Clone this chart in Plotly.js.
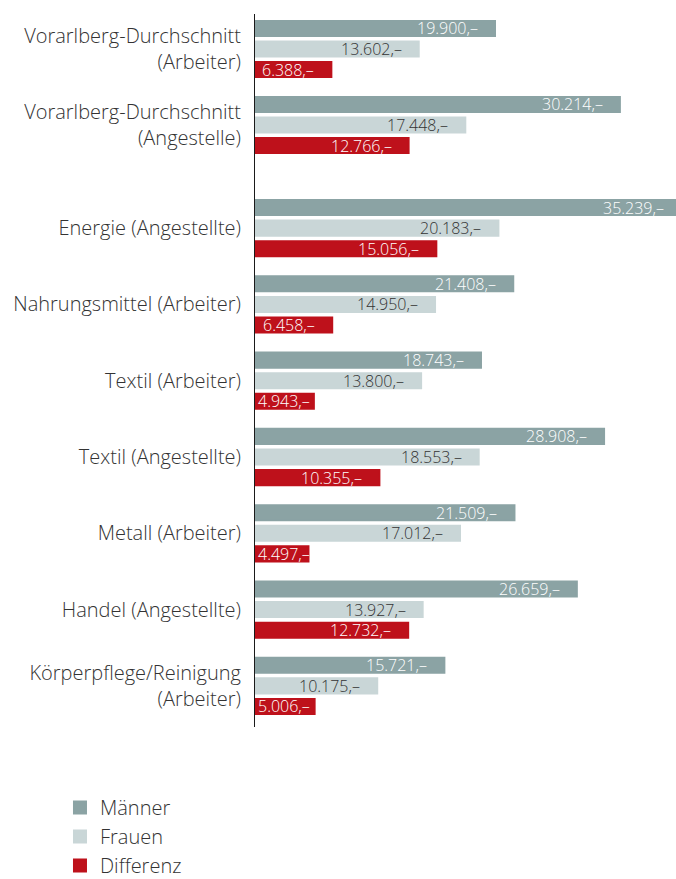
<!DOCTYPE html>
<html><head><meta charset="utf-8">
<script src="https://cdn.plot.ly/plotly-3.0.1.min.js"></script>
<style>html,body{margin:0;padding:0;overflow:hidden;background:#fff;width:676px;height:879px}</style>
</head><body><div id="chart" style="width:684px;height:879px"></div>
<script>
// ---- data ----
const categories = [
  'Vorarlberg-Durchschnitt<br>(Arbeiter)',
  'Vorarlberg-Durchschnitt<br>(Angestelle)',
  'Energie (Angestellte)',
  'Nahrungsmittel (Arbeiter)',
  'Textil (Arbeiter)',
  'Textil (Angestellte)',
  'Metall (Arbeiter)',
  'Handel (Angestellte)',
  'Körperpflege/Reinigung<br>(Arbeiter)'
];
const section = ['avg','avg','branch','branch','branch','branch','branch','branch','branch'];
const maenner   = [19900, 30214, 35239, 21408, 18743, 28908, 21509, 26659, 15721];
const frauen    = [13602, 17448, 20183, 14950, 13800, 18553, 17012, 13927, 10175];
const differenz = [ 6388, 12766, 15056,  6458,  4943, 10355,  4497, 12732,  5006];
const seriesNames = ['Männer', 'Frauen', 'Differenz'];

// ---- style ----
const W = 684, H = 879, ML = 254;
const colors = ['#8ba3a4', '#c9d6d7', '#be111b'];
const labelColors = ['#ffffff', '#333333', '#ffffff'];
const font = '"Open Sans", Roboto, sans-serif';
const xMax = 35508;
const domTop = [1 - 163/879, 1 - 11/879];
const domBot = [1 - 724/879, 1 - 190/879];
const bargap = 0.19, bargroupgap = 0.268;

function fmt(v) {
  const t = Math.floor(v / 1000), r = v % 1000;
  return t + '.' + String(r).padStart(3, '0') + ',\u2013';
}

const series = [maenner, frauen, differenz];
const sections = [['avg', 'y', domTop], ['branch', 'y2', domBot]];
const traces = [];
const annotations = [];
const pxPerUnit = (W - ML) / xMax;

sections.forEach(([sec, yax, dom], si) => {
  const idx = section.map((s, i) => s === sec ? i : -1).filter(i => i >= 0);
  const cats = idx.map(i => categories[i]);
  const pitch = (dom[1] - dom[0]) * H / idx.length;
  const slot = pitch * (1 - bargap) / 3;
  series.forEach((vals, k) => {
    const xs = idx.map(i => vals[i]);
    traces.push({
      type: 'bar', orientation: 'h',
      x: xs, y: cats, yaxis: yax, xaxis: 'x',
      name: seriesNames[k], legendgroup: seriesNames[k], showlegend: si === 0,
      marker: {color: colors[k], line: {color: colors[k], width: 2}},
      hoverinfo: 'skip'
    });
    xs.forEach((v, j) => {
      const txt = fmt(v);
      const barPx = v * pxPerUnit;
      const estW = txt.length * 7.6;
      const fits = barPx - 16 - estW >= 3;
      annotations.push({
        xref: 'x', yref: yax,
        x: fits ? v : 0, y: cats[j],
        xanchor: fits ? 'right' : 'left', yanchor: 'middle',
        xshift: fits ? -15 : 2, yshift: (1 - k) * slot,
        text: txt, showarrow: false,
        font: {family: font, size: 16, weight: 300, color: labelColors[k]}
      });
    });
  });
});

const tickfont = {family: font, size: 20, weight: 300, color: '#333333'};
const yBase = {
  type: 'category', autorange: 'reversed', showline: false, showgrid: false,
  zeroline: false, ticks: '', tickfont: tickfont, ticklabelstandoff: 12,
  anchor: 'x', fixedrange: true, automargin: false
};

const layout = {
  width: W, height: H,
  margin: {l: ML, r: 0, t: 0, b: 0, pad: 0, autoexpand: false},
  paper_bgcolor: '#ffffff', plot_bgcolor: '#ffffff',
  barmode: 'group', bargap: bargap, bargroupgap: bargroupgap,
  hovermode: false,
  xaxis: {range: [0, xMax], visible: false, fixedrange: true},
  yaxis: Object.assign({}, yBase, {domain: domTop}),
  yaxis2: Object.assign({}, yBase, {domain: domBot}),
  showlegend: true,
  legend: {
    orientation: 'v', x: -0.4512, xanchor: 'left', y: 1 - 788/879, yanchor: 'top',
    font: {family: font, size: 20, weight: 300, color: '#333333'},
    tracegroupgap: 0, bgcolor: 'rgba(0,0,0,0)', borderwidth: 0
  },
  shapes: [{
    type: 'line', xref: 'x', yref: 'paper', x0: 0, x1: 0,
    y0: 1 - 14/879, y1: 1 - 727/879,
    line: {color: '#1a1a1a', width: 2}, layer: 'above'
  }],
  annotations: annotations
};

Plotly.newPlot('chart', traces, layout, {displayModeBar: false, staticPlot: true});
</script>
</body></html>
